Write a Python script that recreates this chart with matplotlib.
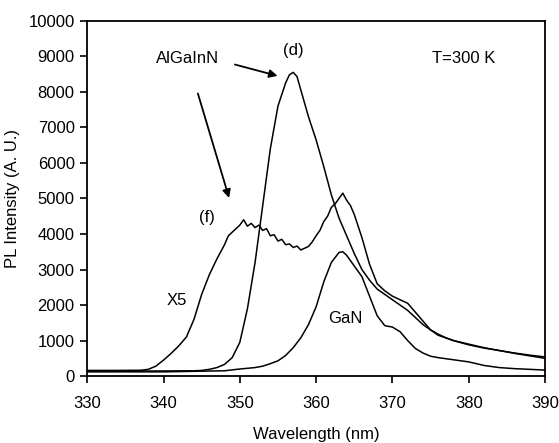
import numpy as np
import matplotlib.pyplot as plt

plt.rcParams['font.family'] = ['Liberation Sans', 'DejaVu Sans']

# AlGaInN (d)
d_wl = [330, 335, 340, 344, 345, 346, 347, 348, 349, 350, 351, 352, 353, 354, 355, 356,
        356.5, 357, 357.5, 358, 359, 360, 361, 362, 363, 364, 365, 366, 367, 368, 369,
        370, 371, 372, 373, 374, 375, 376, 377, 378, 380, 382, 384, 386, 388, 390]
d_int = [140, 140, 145, 150, 160, 190, 240, 330, 520, 950, 1900, 3200, 4800, 6400, 7600, 8250,
         8480, 8550, 8430, 8050, 7300, 6650, 5900, 5100, 4450, 3950, 3450, 3000, 2700, 2450, 2300,
         2150, 2000, 1850, 1650, 1450, 1300, 1180, 1080, 1000, 880, 790, 720, 640, 570, 500]

# AlGaInN (f), x5
f_wl = [330, 334, 337, 338, 339, 340, 341, 342, 343, 344, 345, 346, 347, 348, 348.5, 349,
        349.5, 350, 350.5, 351, 351.5, 352, 352.5, 353, 353.5, 354, 354.5, 355, 355.5, 356,
        356.5, 357, 357.5, 358, 358.5, 359, 359.5, 360, 360.5, 361, 361.5, 362, 362.5, 363,
        363.5, 364, 364.5, 365, 366, 367, 368, 369, 370, 371, 372, 373, 374, 375, 376, 378,
        380, 382, 384, 386, 388, 390]
f_int = [160, 160, 165, 190, 280, 450, 640, 850, 1100, 1600, 2300, 2850, 3300, 3700, 3950, 4050,
         4150, 4250, 4400, 4220, 4300, 4180, 4250, 4100, 4150, 3950, 3980, 3800, 3850, 3700,
         3720, 3620, 3660, 3550, 3600, 3650, 3780, 3950, 4100, 4350, 4500, 4750, 4850, 5000,
         5150, 4950, 4800, 4550, 3900, 3150, 2600, 2400, 2250, 2150, 2050, 1800, 1550, 1300, 1150, 1000,
         900, 800, 720, 650, 590, 540]

# GaN
g_wl = [330, 340, 348, 350, 352, 353, 354, 355, 356, 357, 358, 359, 360, 361, 362, 363,
        363.5, 364, 365, 366, 367, 368, 369, 370, 371, 372, 373, 374, 375, 376, 378, 380,
        382, 384, 386, 388, 390]
g_int = [120, 120, 150, 200, 240, 280, 350, 430, 580, 800, 1080, 1450, 1950, 2650, 3200, 3480,
         3500, 3400, 3100, 2800, 2250, 1700, 1420, 1380, 1250, 1000, 780, 650, 560, 520, 460, 400,
         300, 240, 210, 190, 170]

fig = plt.figure(figsize=(5.59, 4.43), dpi=100)
ax = fig.add_axes([0.156, 0.151, 0.819, 0.802])

ax.plot(d_wl, d_int, color='black', lw=1.1)
ax.plot(f_wl, f_int, color='black', lw=1.1)
ax.plot(g_wl, g_int, color='black', lw=1.1)

ax.set_xlim(330, 390)
ax.set_ylim(0, 10000)
ax.set_xticks(np.arange(330, 391, 10))
ax.set_yticks(np.arange(0, 10001, 1000))
ax.tick_params(direction='out', length=5, width=1.2, labelsize=12)
ax.tick_params(axis='x', pad=9)
ax.tick_params(axis='y', pad=4)
for s in ax.spines.values():
    s.set_linewidth(1.3)

ax.set_xlabel('Wavelength (nm)', fontsize=12, labelpad=12)
ax.set_ylabel('PL Intensity (A. U.)', fontsize=12, labelpad=6)

ax.text(343.2, 8930, 'AlGaInN', fontsize=12, ha='center', va='center')
ax.annotate('', xy=(355.3, 8430), xytext=(349.0, 8790),
            arrowprops=dict(arrowstyle='-|>', color='black', lw=1.3, mutation_scale=12))
ax.annotate('', xy=(348.7, 4940), xytext=(344.4, 8030),
            arrowprops=dict(arrowstyle='-|>', color='black', lw=1.3, mutation_scale=12))
ax.text(357.0, 9160, '(d)', fontsize=12, ha='center', va='center')
ax.text(379.3, 8930, 'T=300 K', fontsize=12, ha='center', va='center')
ax.text(345.7, 4470, '(f)', fontsize=12, ha='center', va='center')
ax.text(341.7, 2130, 'X5', fontsize=12, ha='center', va='center')
ax.text(363.8, 1630, 'GaN', fontsize=12, ha='center', va='center')

fig.savefig('out.png', dpi=100)
